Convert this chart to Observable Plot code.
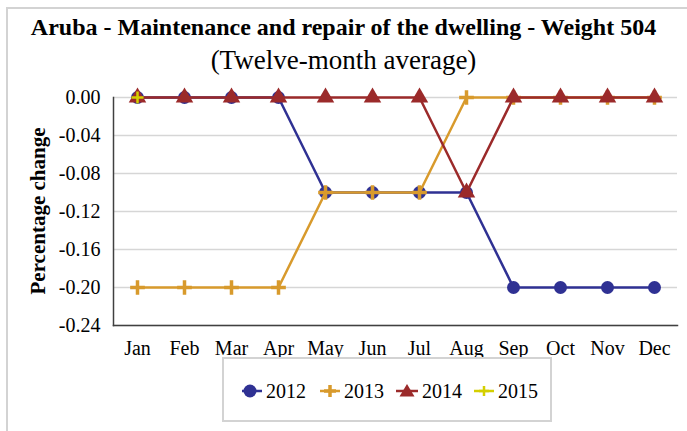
<!DOCTYPE html>
<html>
<head>
<meta charset="utf-8">
<script src="https://cdn.jsdelivr.net/npm/d3@7"></script>
<script src="https://cdn.jsdelivr.net/npm/@observablehq/plot@0.6"></script>
<style>
  html, body { margin: 0; padding: 0; background: #fff; }
  #wrap { position: relative; width: 687px; height: 431px; overflow: hidden; font-family: "Liberation Serif", "Times New Roman", serif; color: #000; }
  #border { position: absolute; left: 6px; top: 7px; width: 700px; height: 440px; border: 2px solid #d3d3d3; box-sizing: border-box; }
  #title { position: absolute; left: 0; width: 687px; top: 13px; text-align: center; font-weight: bold; font-size: 24px; line-height: 28px; }
  #subtitle { position: absolute; left: 0; width: 687px; top: 45px; text-align: center; font-size: 27px; line-height: 30px; }
  #ylabel { position: absolute; left: 38px; top: 211px; transform: translate(-50%, -50%) rotate(-90deg); font-weight: bold; font-size: 21px; white-space: nowrap; }
  #chart { position: absolute; left: 0; top: 80px; }
  #legend { position: absolute; left: 222px; top: 357px; width: 330px; height: 65px; border: 2px solid #d3d3d3; box-sizing: border-box; background: #fff; }
  .item { position: absolute; top: 20px; font-size: 20px; line-height: 24px; display: flex; align-items: center; }
  .item svg { margin-right: 4px; }
</style>
</head>
<body>
<div id="wrap">
  <div id="border"></div>
  <div id="title"></div>
  <div id="subtitle"></div>
  <div id="chart"></div>
  <div id="ylabel"></div>
  <div id="legend"></div>
</div>
<script>
const titleText = "Aruba - Maintenance and repair of the dwelling - Weight 504";
const subtitleText = "(Twelve-month average)";
const yLabelText = "Percentage change";
const months = ["Jan","Feb","Mar","Apr","May","Jun","Jul","Aug","Sep","Oct","Nov","Dec"];
const yTicks = [0, -0.04, -0.08, -0.12, -0.16, -0.20, -0.24];
const seriesNames = ["2012","2013","2014","2015"];
const v2012 = [0, 0, 0, 0, -0.10, -0.10, -0.10, -0.10, -0.20, -0.20, -0.20, -0.20];
const v2013 = [-0.20, -0.20, -0.20, -0.20, -0.10, -0.10, -0.10, 0, 0, 0, 0, 0];
const v2014 = [0, 0, 0, 0, 0, 0, 0, -0.10, 0, 0, 0, 0];
const v2015 = [0];
const colors = ["#2f3193", "#d89a2c", "#9b2a2a", "#d4cf00"];

document.getElementById("title").textContent = titleText;
document.getElementById("subtitle").textContent = subtitleText;
document.getElementById("ylabel").textContent = yLabelText;

const toRows = (vals) => vals.map((v, i) => ({month: months[i], value: v}));
const d2012 = toRows(v2012), d2013 = toRows(v2013), d2014 = toRows(v2014), d2015 = toRows(v2015);

const chart = Plot.plot({
  width: 687,
  height: 300,
  marginLeft: 113,
  marginRight: 10,
  marginTop: 17,
  marginBottom: 55,
  style: {fontFamily: "'Liberation Serif', 'Times New Roman', serif", fontSize: "20px", color: "#000", background: "transparent", overflow: "visible"},
  x: {type: "point", domain: months, padding: 0.5, label: null},
  y: {domain: [-0.24, 0], label: null},
  marks: [
    Plot.gridY(yTicks, {stroke: "#d6d6d6", strokeOpacity: 1, strokeWidth: 1.5}),
    Plot.axisY(yTicks, {tickSize: 0, tickPadding: 13, tickFormat: d => d.toFixed(2), fontSize: 20, label: null}),
    Plot.axisX({tickSize: 0, tickPadding: 15, fontSize: 20, label: null}),
    Plot.frame({anchor: "left", stroke: "#404040", strokeWidth: 1.5}),
    Plot.frame({anchor: "bottom", stroke: "#404040", strokeWidth: 1.5}),
    Plot.line(d2012, {x: "month", y: "value", stroke: colors[0], strokeWidth: 2.5}),
    Plot.dot(d2012, {x: "month", y: "value", fill: colors[0], r: 6.5, symbol: "circle"}),
    Plot.line(d2013, {x: "month", y: "value", stroke: colors[1], strokeWidth: 2.5}),
    Plot.dot(d2013, {x: "month", y: "value", stroke: colors[1], strokeWidth: 3.5, r: 4.8, symbol: "plus"}),
    Plot.line(d2014, {x: "month", y: "value", stroke: colors[2], strokeWidth: 2.5}),
    Plot.dot(d2014, {x: "month", y: "value", fill: colors[2], r: 6.5, symbol: "triangle"}),
    Plot.line(d2015, {x: "month", y: "value", stroke: colors[3], strokeWidth: 2.5}),
    Plot.dot(d2015, {x: "month", y: "value", stroke: colors[3], strokeWidth: 2.5, r: 4, symbol: "plus"})
  ]
});
document.getElementById("chart").appendChild(chart);

// Legend
const legend = document.getElementById("legend");
const lefts = [18, 96, 172, 250];
const symbolSvg = [
  c => `<svg width="20" height="20" viewBox="-8 -10 20 20"><line x1="-8" x2="12" y1="0" y2="0" stroke="${c}" stroke-width="2.5"/><circle r="6.5" fill="${c}"/></svg>`,
  c => `<svg width="20" height="20" viewBox="-10 -10 20 20"><line x1="-10" x2="10" y1="0" y2="0" stroke="${c}" stroke-width="2.5"/><path d="M-6,0H6M0,-6V6" stroke="${c}" stroke-width="3.5"/></svg>`,
  c => `<svg width="22" height="20" viewBox="-11 -10 22 20"><line x1="-11" x2="11" y1="0" y2="0" stroke="${c}" stroke-width="2.5"/><path d="M0,-7L7.5,5.5H-7.5Z" fill="${c}"/></svg>`,
  c => `<svg width="20" height="20" viewBox="-10 -10 20 20"><line x1="-10" x2="10" y1="0" y2="0" stroke="${c}" stroke-width="2.5"/><path d="M-5,0H5M0,-5V5" stroke="${c}" stroke-width="2.5"/></svg>`
];
seriesNames.forEach((name, i) => {
  const d = document.createElement("div");
  d.className = "item";
  d.style.left = lefts[i] + "px";
  d.innerHTML = symbolSvg[i](colors[i]) + `<span>${name}</span>`;
  legend.appendChild(d);
});
</script>
</body>
</html>
